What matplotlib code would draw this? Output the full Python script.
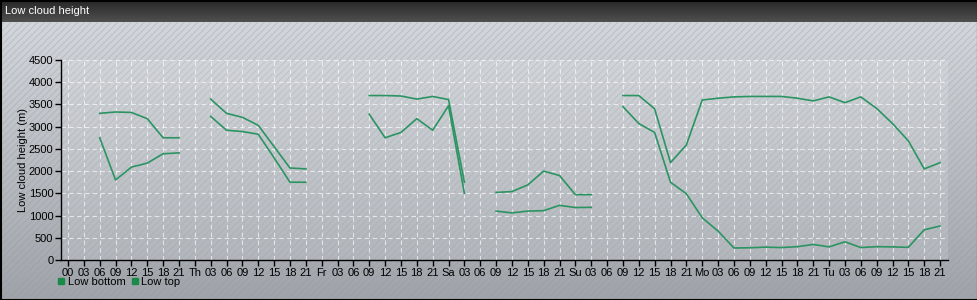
import numpy as np
import matplotlib.pyplot as plt
from matplotlib.patches import Rectangle
from matplotlib.lines import Line2D
from matplotlib.colors import LinearSegmentedColormap

plt.rcParams['font.family'] = ['Liberation Sans', 'DejaVu Sans']
plt.rcParams['hatch.linewidth'] = 0.6

# x axis: 3-hourly steps over 7 days
days = ['00', 'Th', 'Fr', 'Sa', 'Su', 'Mo', 'Tu']
hours = ['03', '06', '09', '12', '15', '18', '21']

nan = np.nan
# low cloud bottom / top (m), one value per 3-hour step, nan = no cloud
low_bottom = [nan, nan, 2750, 1800, 2090, 2180, 2390, 2410,
              nan, 3230, 2920, 2890, 2830, 2300, 1750, 1750,
              nan, nan, nan, 3280, 2750, 2870, 3180, 2920,
              3470, 1500, nan, 1100, 1060, 1100, 1110, 1230,
              1180, 1185, nan, 3450, 3070, 2870, 1750, 1490,
              950, 650, 270, 275, 290, 280, 300, 350,
              295, 410, 280, 300, 295, 285, 680, 765]
low_top = [nan, nan, 3300, 3330, 3320, 3180, 2750, 2750,
           nan, 3620, 3300, 3210, 3030, 2550, 2070, 2050,
           nan, nan, nan, 3700, 3700, 3690, 3620, 3680,
           3610, 1750, nan, 1520, 1540, 1690, 2000, 1900,
           1470, 1470, nan, 3700, 3700, 3400, 2190, 2590,
           3600, 3640, 3670, 3680, 3680, 3680, 3640, 3580,
           3670, 3540, 3670, 3410, 3070, 2680, 2050, 2190]

tick_labels = []
for d in days:
    tick_labels.append(d)
    tick_labels += hours
x = np.arange(len(tick_labels))

W, H = 978, 300
fs = 8
fig = plt.figure(figsize=(W / 100, H / 100), dpi=100)

# background panel (pixel coordinates)
bg = fig.add_axes([0, 0, 1, 1])
bg.set_xlim(0, W)
bg.set_ylim(H, 0)
bg.axis('off')
grad = np.linspace(0, 1, 300).reshape(-1, 1)
cm_bg = LinearSegmentedColormap.from_list('bg', ['#d3d6da', '#a0a4a9'])
bg.imshow(grad, cmap=cm_bg, extent=[0, W, H, 22], aspect='auto', zorder=0)
bg.add_patch(Rectangle((0, 22), W, H - 22, fill=False, hatch='/////',
                       edgecolor=(0.55, 0.6, 0.68, 0.4), lw=0, zorder=1))
# plot area, a bit lighter
bg.add_patch(Rectangle((61, 60), 887, 200, facecolor='white', alpha=0.13,
                       lw=0, zorder=2))
# title bar
cm_title = LinearSegmentedColormap.from_list('tb', ['#262626', '#505050'])
bg.imshow(grad, cmap=cm_title, extent=[0, W, 22, 0], aspect='auto', zorder=3)
bg.text(5, 11.5, 'Low cloud height', color='white', fontsize=fs,
        va='center', ha='left', zorder=4)
bg.add_patch(Rectangle((0.5, 0.5), W - 1, H - 1, fill=False,
                       edgecolor='black', lw=1.5, zorder=5))

ax = fig.add_axes([61 / W, 40 / H, 887 / W, 200 / H])
ax.set_facecolor('none')
line_color = '#2b9462'
ax.plot(x, low_bottom, color=line_color, lw=1.2)
ax.plot(x, low_top, color=line_color, lw=1.2)

ax.set_xlim(-0.44, 55.5)
ax.set_ylim(0, 4500)
ax.set_xticks(x)
ax.set_xticklabels(tick_labels)
ax.set_yticks(np.arange(0, 4501, 500))
ax.tick_params(direction='out', length=4, width=1, colors='black',
               labelsize=fs, pad=1.5)
ax.grid(True, color='white', alpha=0.65, ls=(0, (4, 3)), lw=0.8)
ax.set_axisbelow(True)
for s in ['top', 'right']:
    ax.spines[s].set_visible(False)
for s in ['left', 'bottom']:
    ax.spines[s].set_color('black')
    ax.spines[s].set_linewidth(1)
ax.set_ylabel('Low cloud height (m)', fontsize=fs, labelpad=0.5)

handles = [Line2D([], [], ls='none', marker='s', markersize=4.5,
                  color='#1a8a48'),
           Line2D([], [], ls='none', marker='s', markersize=4.5,
                  color='#1a8a48')]
fig.legend(handles, ['Low bottom', 'Low top'], loc='center left',
           bbox_to_anchor=(58 / W, 18 / H), ncol=2, frameon=False,
           fontsize=fs, handlelength=0.6, handletextpad=0.3,
           columnspacing=0.5, borderpad=0, borderaxespad=0)

plt.savefig('out.png', dpi=100)
